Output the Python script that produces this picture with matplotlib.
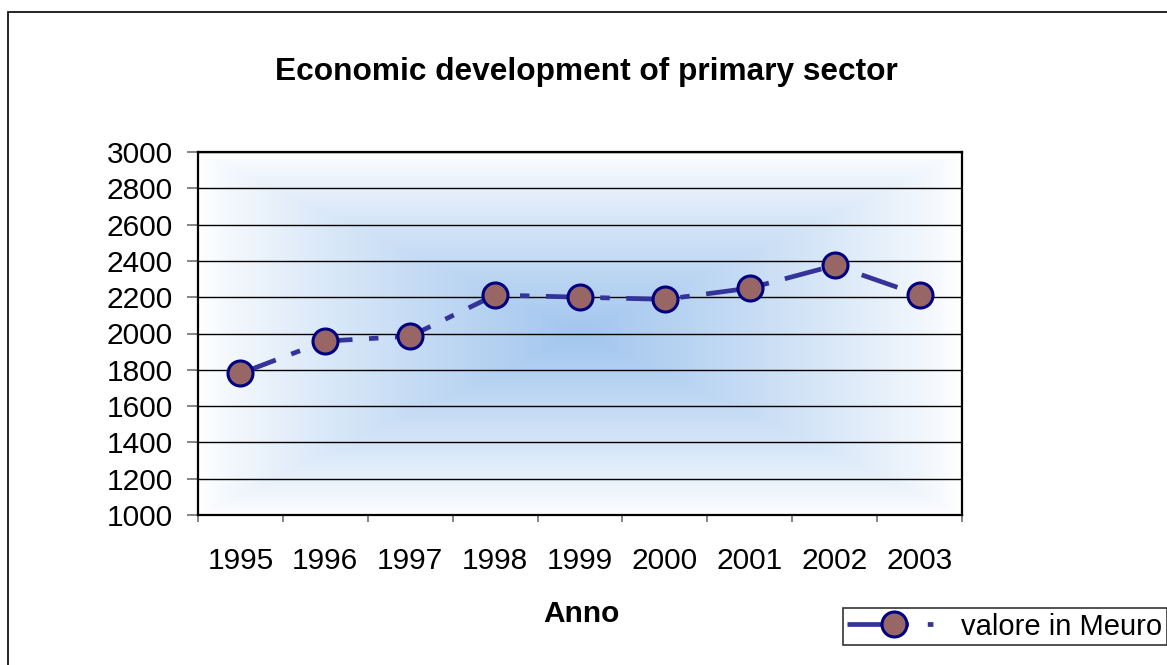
import matplotlib.pyplot as plt
import matplotlib.patches as patches
from matplotlib.lines import Line2D
import numpy as np

plt.rcParams["font.family"] = ["Liberation Sans", "DejaVu Sans"]

anni = ["1995", "1996", "1997", "1998", "1999", "2000", "2001", "2002", "2003"]
valori = [1780, 1958, 1985, 2212, 2200, 2188, 2250, 2375, 2212]

W, H = 1167, 665
fig = plt.figure(figsize=(W / 100, H / 100), dpi=100)
ax = fig.add_axes([198 / W, 1 - 515 / H, (962 - 198) / W, (515 - 152) / H])

# sfondo sfumato dal centro (rettangolare)
n = 400
u = np.linspace(-1, 1, n)
U, V = np.meshgrid(u, u)
t = np.maximum(np.abs(U), np.abs(V))
k = (1 - t) ** 0.85
centro = np.array([162, 198, 238]) / 255
img = np.ones((n, n, 3)) - k[..., None] * (1 - centro)
ax.imshow(img, extent=[0, 1, 0, 1], transform=ax.transAxes, aspect="auto", zorder=0)

x = np.arange(len(anni))
ax.plot(x, valori, color="#333399", lw=3.4, dashes=(8, 3.5, 2, 3.5),
        marker="o", ms=18, mfc="#996666", mec="#000080", mew=2.2, zorder=3)

ax.set_xlim(-0.5, len(anni) - 0.5)
ax.set_ylim(1000, 3000)
ax.set_yticks(np.arange(1000, 3001, 200))
ax.yaxis.grid(True, color="black", lw=1.0)
ax.set_axisbelow(False)
for gl in ax.get_ygridlines():
    gl.set_zorder(1)

ax.set_xticks(np.arange(-0.5, len(anni)), labels=[])
ax.set_xticks(x, labels=anni, minor=True)
ax.tick_params(axis="x", which="major", direction="out", length=5, width=1.2, color="#707070")
ax.tick_params(axis="x", which="minor", length=0, pad=23, labelsize=21.5)
ax.tick_params(axis="y", direction="out", length=8, width=1.2, color="#707070", pad=10, labelsize=21.5)

for s in ax.spines.values():
    s.set_color("black")
    s.set_linewidth(1.6)
    s.set_zorder(4)

fig.text(586 / W, 1 - 80 / H, "Economic development of primary sector",
         ha="center", va="baseline", fontsize=22.8, fontweight="bold")
fig.text(581 / W, 1 - 622 / H, "Anno", ha="center", va="baseline",
         fontsize=21.5, fontweight="bold")

bordo = patches.Rectangle((8 / W, -0.1), 1.2, 1.1 - 12 / H, transform=fig.transFigure,
                          fill=False, ec="black", lw=1.2)
fig.patches.append(bordo)

proxy = Line2D([], [], color="#333399", lw=3.4, dashes=(13, 4, 1.2, 10),
               marker="o", ms=18, mfc="#996666", mec="#000080", mew=2.2)
leg = fig.legend([proxy], ["valore in Meuro"], loc="lower left",
                 bbox_to_anchor=(843 / W, 1 - 645 / H), fontsize=21, frameon=True,
                 fancybox=False, edgecolor="black", handlelength=3.2,
                 handletextpad=0.7, borderpad=0.15, borderaxespad=0)
leg.get_frame().set_linewidth(1.2)

fig.savefig("out.png", dpi=100)
